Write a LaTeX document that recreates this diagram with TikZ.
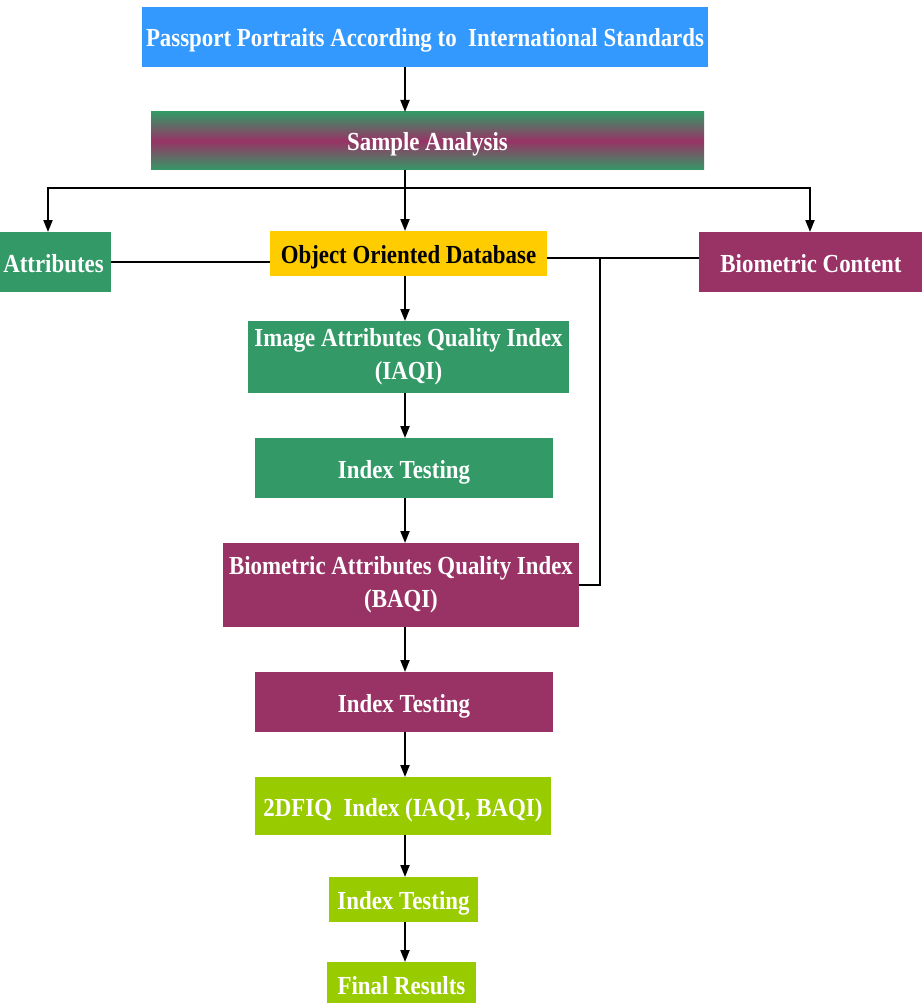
\documentclass[tikz,border=0pt]{standalone}
\usepackage{fontspec}
\setmainfont{Liberation Serif}[FakeStretch=0.88]
\usetikzlibrary{arrows.meta}
\definecolor{cblue}{HTML}{3399FF}
\definecolor{cgreen}{HTML}{339966}
\definecolor{cmaroon}{HTML}{993366}
\definecolor{cgold}{HTML}{FFCC00}
\definecolor{clime}{HTML}{99CC00}
\begin{document}
\begin{tikzpicture}[x=1pt,y=-1pt,
  box/.style={inner sep=0pt, outer sep=0pt, align=center, text=white,
    font=\bfseries\fontsize{26}{33}\selectfont},
  one/.style={text height=20pt, text depth=0pt},
  line/.style={line width=2pt, black},
  arr/.style={line, -{Triangle[length=12pt,width=9pt]}}]
\useasboundingbox (0,0) rectangle (921,1003);
\fill[white] (0,0) rectangle (921,1003);

\node[box, one, fill=cblue, minimum width=566pt, minimum height=60pt] (pp) at (425,37)
  {Passport Portraits According to\ \ International Standards};
\node[box, one, top color=cgreen, bottom color=cgreen, middle color=cmaroon,
  minimum width=553pt, minimum height=58pt] (sa) at (427.5,141) {Sample Analysis};
\node[box, one, fill=cgreen, minimum width=115pt, minimum height=60pt] (attr) at (53.5,262) {Attributes};
\node[box, one, fill=cgold, text=black, minimum width=277pt, minimum height=45pt] (odb) at (408.5,253.5)
  {Object Oriented Database};
\node[box, one, fill=cmaroon, minimum width=224pt, minimum height=60pt] (bio) at (811,262) {Biometric Content};
\node[box, fill=cgreen, minimum width=321pt, minimum height=72pt] (iaqi) at (408.5,357)
  {Image Attributes Quality Index\\(IAQI)};
\node[box, one, fill=cgreen, minimum width=298pt, minimum height=60pt] (it1) at (404,468) {Index Testing};
\node[box, fill=cmaroon, minimum width=356pt, minimum height=84pt] (baqi) at (401,585)
  {Biometric Attributes Quality Index\\(BAQI)};
\node[box, one, fill=cmaroon, minimum width=298pt, minimum height=60pt] (it2) at (404,702) {Index Testing};
\node[box, one, fill=clime, minimum width=296pt, minimum height=58pt] (dfiq) at (403,806)
  {2DFIQ\ \ Index (IAQI, BAQI)};
\node[box, one, fill=clime, minimum width=149pt, minimum height=45pt] (it3) at (403.5,899.5) {Index Testing};
\node[box, one, fill=clime, minimum width=149pt, minimum height=44pt] (fr) at (401.5,984) {Final Results};

\coordinate (sp) at (405,0);
\coordinate (j) at (405,188);
\coordinate (jl) at (48,188);
\coordinate (jr) at (810,188);
\coordinate (k) at (600,258);

\draw[arr] (pp.south -| sp) -- (sa.north -| sp);
\draw[line] (sa.south -| sp) -- (j);
\draw[arr] (j) -- (odb.north -| j);
\draw[arr] (j) -| (attr.north -| jl);
\draw[arr] (j) -| (bio.north -| jr);
\draw[line] (attr.east) -- (attr.east -| odb.west);
\draw[line] (odb.east |- k) -- (bio.west |- k);
\draw[line] (k) |- (baqi.east);
\draw[arr] (odb.south -| sp) -- (iaqi.north -| sp);
\draw[arr] (iaqi.south -| sp) -- (it1.north -| sp);
\draw[arr] (it1.south -| sp) -- (baqi.north -| sp);
\draw[arr] (baqi.south -| sp) -- (it2.north -| sp);
\draw[arr] (it2.south -| sp) -- (dfiq.north -| sp);
\draw[arr] (dfiq.south -| sp) -- (it3.north -| sp);
\draw[arr] (it3.south -| sp) -- (fr.north -| sp);
\end{tikzpicture}
\end{document}
